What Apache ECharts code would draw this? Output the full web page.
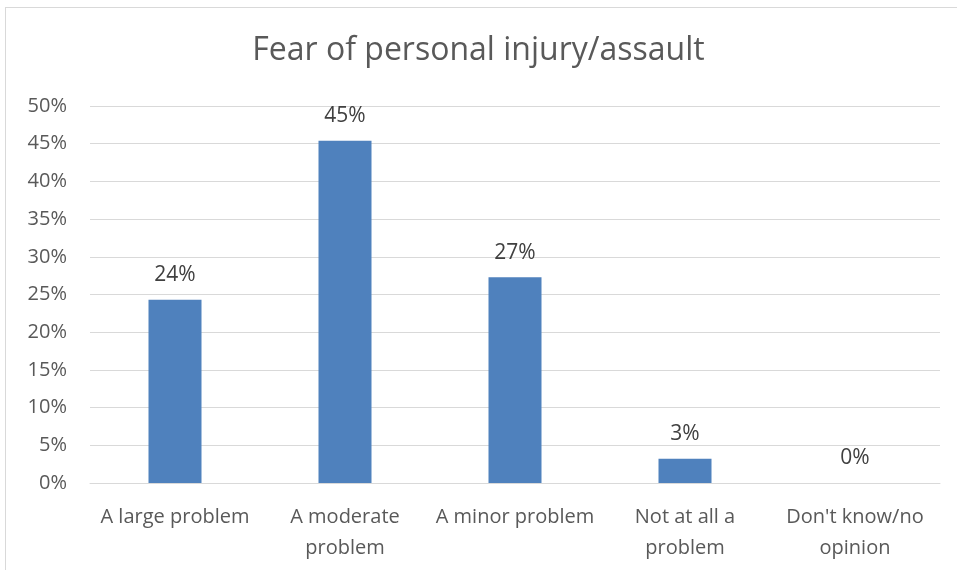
<!DOCTYPE html>
<html>
<head>
    <meta charset="UTF-8"/>
    <title>Fear of personal injury/assault</title>
    <script type="text/javascript" src="https://cdn.jsdelivr.net/npm/echarts@6/dist/echarts.min.js"></script>
    <style>
        html, body { margin: 0; padding: 0; background: #fff; }
        .frame { position: absolute; left: 5px; top: 7px; width: 980px; height: 600px; border: 1px solid #d9d9d9; }
        #chart { position: absolute; left: 0; top: 0; width: 957px; height: 570px; }
    </style>
</head>
<body>
<div class="frame"></div>
<div id="chart"></div>
<script>
    // 数据
    var categories = ['A large problem', 'A moderate\nproblem', 'A minor problem', 'Not at all a\nproblem', "Don't know/no\nopinion"];
    var values = [0.243, 0.454, 0.273, 0.032, 0];
    var yTicks = [0, 0.05, 0.10, 0.15, 0.20, 0.25, 0.30, 0.35, 0.40, 0.45, 0.50];

    var font = '"Open Sans", "Liberation Sans", sans-serif';
    var chart = echarts.init(document.getElementById('chart'));
    chart.setOption({
        animation: false,
        title: {
            text: 'Fear of personal injury/assault',
            left: 'center',
            top: 30,
            textStyle: { fontFamily: font, fontSize: 32, fontWeight: 'normal', color: '#595959' }
        },
        grid: { left: 90, right: 17, top: 106, bottom: 87 },
        xAxis: {
            type: 'category',
            data: categories,
            axisLine: { lineStyle: { color: '#d9d9d9', width: 1 } },
            axisTick: { show: false },
            axisLabel: { fontFamily: font, fontSize: 20, color: '#595959', margin: 19, lineHeight: 31, interval: 0 }
        },
        yAxis: {
            type: 'value',
            min: yTicks[0],
            max: yTicks[yTicks.length - 1],
            interval: 0.05,
            axisLine: { show: false },
            axisTick: { show: false },
            splitLine: { lineStyle: { color: '#d9d9d9', width: 1 } },
            axisLabel: {
                fontFamily: font, fontSize: 20, color: '#595959', margin: 23,
                formatter: function (v) { return Math.round(v * 100) + '%'; }
            }
        },
        series: [{
            type: 'bar',
            data: values,
            barWidth: 53,
            itemStyle: { color: '#4f81bd' },
            label: {
                show: true,
                position: 'top',
                distance: 14,
                fontFamily: font, fontSize: 21, color: '#404040',
                formatter: function (p) { return Math.round(p.value * 100) + '%'; }
            }
        }]
    });
</script>
</body>
</html>
